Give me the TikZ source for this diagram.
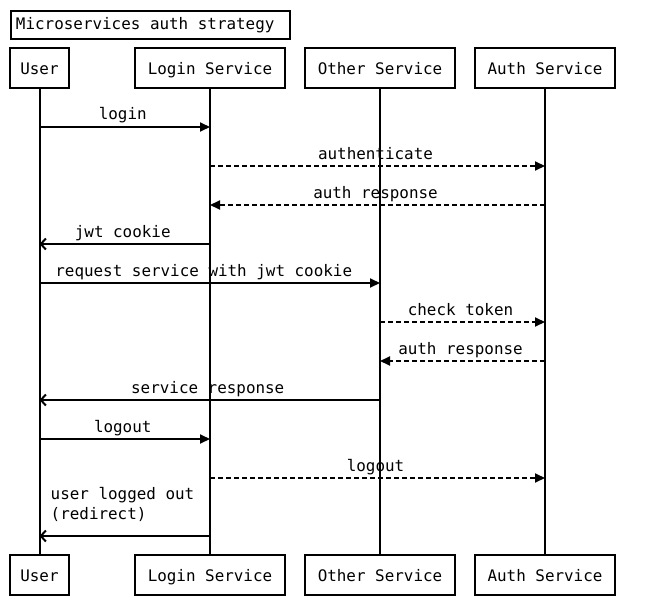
\documentclass[tikz,border=0pt]{standalone}
\usepackage{fontspec}
\newfontfamily\djmono[WordSpace={1,0,0}]{DejaVu Sans Mono}
\usetikzlibrary{arrows.meta}
\begin{document}
\begin{tikzpicture}[x=1pt,y=-1pt,
  every node/.style={font=\djmono\fontsize{15.9}{20}\selectfont},
  actor/.style={draw,line width=2pt,minimum height=40pt,inner sep=0pt,text height=15pt,text depth=2pt},
  life/.style={line width=2pt},
  sync/.style={line width=2pt,-{Triangle[length=10pt,width=9pt]}},
  async/.style={sync,dash pattern=on 5pt off 3pt},
  reply/.style={line width=2pt,-{Straight Barb[length=5pt,width=11pt]}},
  lbl/.style={above,inner sep=1pt,text depth=4pt,yshift=1pt,xshift=-2pt}]
\useasboundingbox (0,0) rectangle (645,615);
\node[draw,line width=2pt,minimum height=28pt,inner xsep=5pt,inner ysep=0pt,anchor=north west] (title) at (10,10) {Microservices auth strategy\kern11pt};
% top actors
\node[actor,minimum width=59pt] (ut) at (39.5,68) {User};
\node[actor,minimum width=150pt] (lt) at (210,68) {Login Service};
\node[actor,minimum width=150pt] (ot) at (380,68) {Other Service};
\node[actor,minimum width=140pt] (at) at (545,68) {Auth Service};
% bottom actors
\node[actor,minimum width=59pt] (ub) at (39.5,575) {User};
\node[actor,minimum width=150pt] (lb) at (210,575) {Login Service};
\node[actor,minimum width=150pt] (ob) at (380,575) {Other Service};
\node[actor,minimum width=140pt] (ab) at (545,575) {Auth Service};
% lifelines
\draw[life] (ut.south) -- (ub.north);
\draw[life] (lt.south) -- (lb.north);
\draw[life] (ot.south) -- (ob.north);
\draw[life] (at.south) -- (ab.north);
% messages
\draw[sync]  (ut |- 0,127) -- (lt |- 0,127) node[midway,lbl] {login};
\draw[async] (lt |- 0,166) -- (at |- 0,166) node[midway,lbl] {authenticate};
\draw[async] (at |- 0,205) -- (lt |- 0,205) node[midway,lbl] {auth response};
\draw[reply] (lt |- 0,244) -- (ut |- 0,244) node[midway,lbl] {jwt cookie};
\draw[sync]  (ut |- 0,283) -- (ot |- 0,283) node[midway,lbl,xshift=-4pt] {request service with jwt cookie};
\draw[async] (ot |- 0,322) -- (at |- 0,322) node[midway,lbl] {check token};
\draw[async] (at |- 0,361) -- (ot |- 0,361) node[midway,lbl] {auth response};
\draw[reply] (ot |- 0,400) -- (ut |- 0,400) node[midway,lbl] {service response};
\draw[sync]  (ut |- 0,439) -- (lt |- 0,439) node[midway,lbl] {logout};
\draw[async] (lt |- 0,478) -- (at |- 0,478) node[midway,lbl] {logout};
\draw[reply] (lt |- 0,536) -- (ut |- 0,536) node[pos=0.94,above right,inner sep=0pt,yshift=13pt,align=left] {user logged out\\(redirect)};
\end{tikzpicture}
\end{document}
